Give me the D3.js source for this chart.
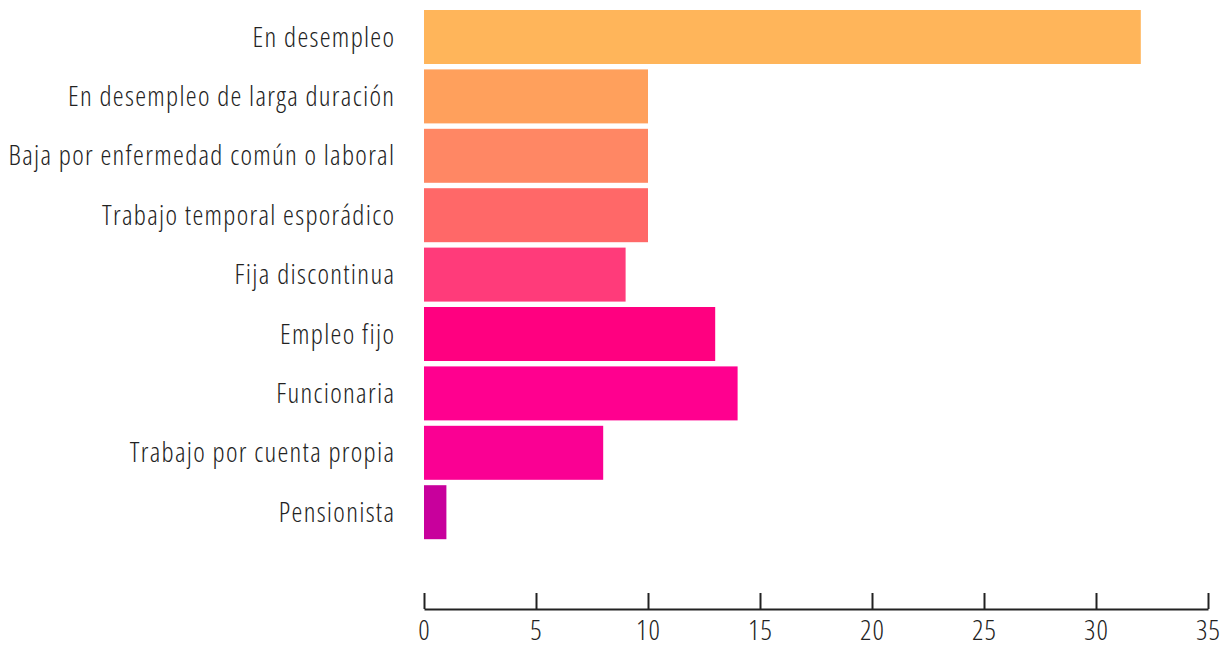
<!DOCTYPE html>
<html>
<head>
<meta charset="utf-8">
<script src="https://cdn.jsdelivr.net/npm/d3@7"></script>
<style>
  body { margin: 0; background: #fff; }
  svg text { font-family: "Open Sans", "DejaVu Sans Condensed", sans-serif; font-stretch: 85%; font-weight: 300; fill: #222; }
</style>
</head>
<body>
<div id="container"></div>
<script>
const categories = [
  'En desempleo',
  'En desempleo de larga duración',
  'Baja por enfermedad común o laboral',
  'Trabajo temporal esporádico',
  'Fija discontinua',
  'Empleo fijo',
  'Funcionaria',
  'Trabajo por cuenta propia',
  'Pensionista'
];
const values = [32, 10, 10, 10, 9, 13, 14, 8, 1];
const colors = ['#ffb55a', '#ffa05c', '#ff8764', '#ff6868', '#ff3b7a', '#ff0080', '#ff008f', '#fa0093', '#c8009c'];
const ticks = [0, 5, 10, 15, 20, 25, 30, 35];

const width = 1228;
const height = 650;

const svg = d3.select('#container').append('svg')
  .attr('width', width)
  .attr('height', height);

// scales
const xScale = d3.scaleLinear()
  .domain([0, 35])
  .range([424, 1208]);

const yScale = d3.scaleBand()
  .domain(categories)
  .range([7.3, 541.9])
  .paddingInner(0.091)
  .paddingOuter(0.0455);

// bars
svg.append('g').classed('bars', true)
  .selectAll('rect').data(categories).enter().append('rect')
  .attr('x', xScale(0))
  .attr('y', d => yScale(d))
  .attr('width', (d, i) => xScale(values[i]) - xScale(0))
  .attr('height', yScale.bandwidth())
  .attr('fill', (d, i) => colors[i]);

// category labels
svg.append('g').classed('labels', true)
  .selectAll('text').data(categories).enter().append('text')
  .attr('x', 395.3)
  .attr('y', d => yScale(d) + yScale.bandwidth() / 2)
  .attr('dy', '0.35em')
  .attr('text-anchor', 'end')
  .style('font-size', '27.5px')
  .style('letter-spacing', '1.3px')
  .text(d => d);

// x axis
const xAxis = d3.axisBottom(xScale)
  .tickValues(ticks)
  .tickSize(0)
  .tickPadding(11);

const axis = svg.append('g')
  .classed('x axis', true)
  .attr('transform', 'translate(0, 609)')
  .call(xAxis);

axis.select('.domain')
  .attr('stroke', '#222')
  .attr('stroke-width', 2);

axis.selectAll('.tick line')
  .attr('y2', -16)
  .attr('stroke', '#222')
  .attr('stroke-width', 2);

axis.selectAll('.tick text')
  .style('font-size', '28px')
  .style('letter-spacing', '1px')
  .attr('fill', '#222');
</script>
</body>
</html>
